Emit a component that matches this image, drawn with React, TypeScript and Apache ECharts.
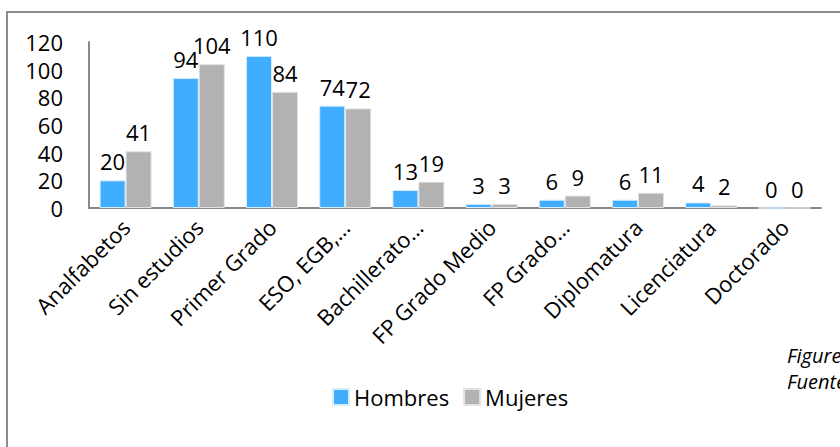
import React, { useEffect, useRef } from "react";
import * as echarts from "echarts";

const categories = [
  "Analfabetos",
  "Sin estudios",
  "Primer Grado",
  "ESO, EGB,…",
  "Bachillerato…",
  "FP Grado Medio",
  "FP Grado…",
  "Diplomatura",
  "Licenciatura",
  "Doctorado",
];
const hombres = [20, 94, 110, 74, 13, 3, 6, 6, 4, 0];
const mujeres = [41, 104, 84, 72, 19, 3, 9, 11, 2, 0];
const seriesNames = ["Hombres", "Mujeres"];
const noteLines = ["Figure", "Fuente"];

const FONT = "'Open Sans', 'Noto Sans', sans-serif";

export default function App() {
  const ref = useRef<HTMLDivElement>(null);
  useEffect(() => {
    if (!ref.current) return;
    const chart = echarts.init(ref.current, null, { renderer: "svg" });
    const label = {
      show: true,
      position: "top" as const,
      distance: 8,
      color: "#000",
      fontSize: 22,
      fontFamily: FONT,
    };
    chart.setOption({
      animation: false,
      backgroundColor: "#fff",
      textStyle: { fontFamily: FONT },
      grid: { left: 89, right: 19, top: 42, bottom: 239, containLabel: false },
      legend: {
        data: seriesNames,
        left: 327,
        top: 381,
        icon: "rect",
        itemWidth: 16,
        itemHeight: 16,
        itemGap: 14,
        textStyle: { fontSize: 22, color: "#000", fontFamily: FONT },
      },
      xAxis: {
        type: "category",
        data: categories,
        axisLine: { show: true, lineStyle: { color: "#888", width: 2 } },
        axisTick: { show: false },
        axisLabel: {
          rotate: 45,
          interval: 0,
          margin: 15,
          fontSize: 22,
          color: "#000",
          fontFamily: FONT,
        },
      },
      yAxis: {
        type: "value",
        min: 0,
        max: 120,
        interval: 20,
        axisLine: { show: true, lineStyle: { color: "#888", width: 2 } },
        axisTick: { show: false },
        splitLine: { show: false },
        axisLabel: { margin: 26, fontSize: 22, color: "#000", fontFamily: FONT },
      },
      series: [
        {
          name: seriesNames[0],
          type: "bar",
          data: hombres,
          barGap: "0%",
          barCategoryGap: "29%",
          itemStyle: { color: "#41adff", borderColor: "#d6ecff", borderWidth: 1 },
          label,
        },
        {
          name: seriesNames[1],
          type: "bar",
          data: mujeres,
          itemStyle: { color: "#b2b2b2", borderColor: "#e2e2e2", borderWidth: 1 },
          label,
        },
      ],
      graphic: [
        {
          type: "rect",
          shape: { x: 7, y: 12, width: 900, height: 500 },
          style: { fill: "none", stroke: "#8c8c8c", lineWidth: 2 },
          silent: true,
        },
        {
          type: "text",
          x: 787,
          y: 345,
          style: {
            text: noteLines[0],
            fontSize: 20,
            fontStyle: "italic",
            fontFamily: FONT,
            fill: "#000",
          },
        },
        {
          type: "text",
          x: 787,
          y: 371,
          style: {
            text: noteLines[1],
            fontSize: 20,
            fontStyle: "italic",
            fontFamily: FONT,
            fill: "#000",
          },
        },
      ],
    });
    return () => chart.dispose();
  }, []);
  return (
    <div
      ref={ref}
      style={{ position: "fixed", left: 0, top: 0, width: 840, height: 447, overflow: "hidden" }}
    />
  );
}
